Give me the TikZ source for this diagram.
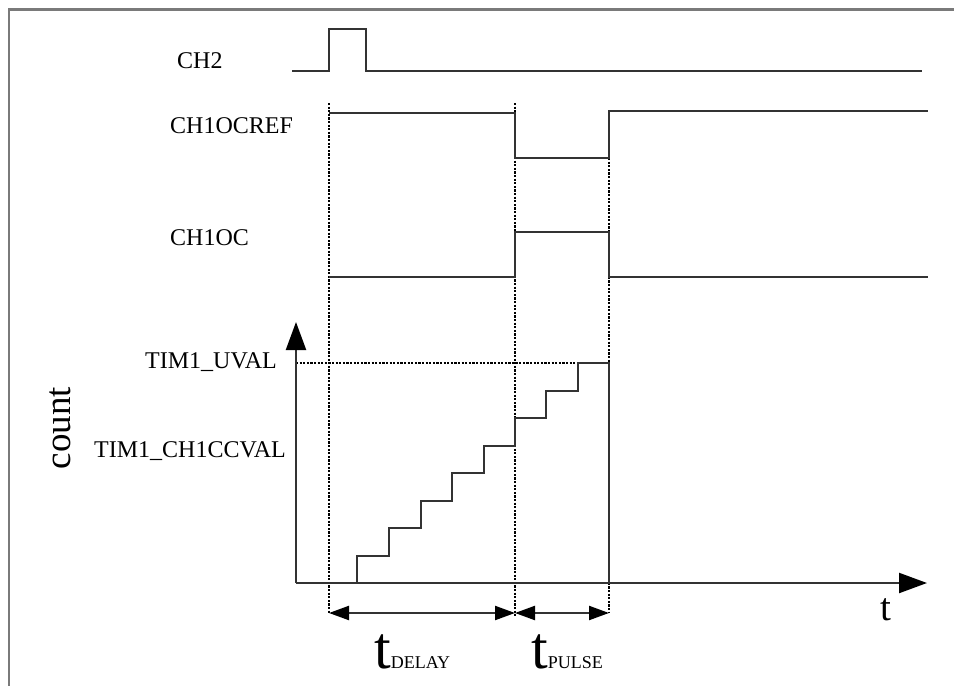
\documentclass[tikz,border=0pt]{standalone}
\usepackage{fontspec}
\setmainfont{Liberation Serif}
\usetikzlibrary{arrows.meta}
\definecolor{framegray}{HTML}{7A7A7A}
\definecolor{sig}{HTML}{333333}
\begin{document}
\begin{tikzpicture}[x=1pt,y=-1pt,
  signal/.style={draw=sig,line width=2.2pt,line join=miter},
  guide/.style={draw=black,line width=2.2pt,dash pattern=on 2.2pt off 1.4pt},
  axis/.style={draw=sig,line width=2.2pt,-{Triangle[length=28pt,width=20pt,color=black]}},
  dim/.style={draw=sig,line width=2.2pt,{Triangle[length=20pt,width=14pt,color=black]}-{Triangle[length=20pt,width=14pt,color=black]}},
  lbl/.style={inner sep=0pt,font=\fontsize{24}{27}\selectfont},
  big/.style={inner sep=0pt,font=\fontsize{37}{40}\selectfont}]
\useasboundingbox (0,0) rectangle (954,686);
% frame
\draw[framegray,line width=2.6pt] (9,686) -- (9,9.5) -- (954,9.5);
% labels
\node[lbl,anchor=base west] (lch2) at (177,68) {CH2};
\node[lbl,anchor=base west] (lref) at (170,133) {CH1OCREF};
\node[lbl,anchor=base west] (loc) at (170,245) {CH1OC};
\node[lbl,anchor=base east] (luval) at (277,368) {TIM1\_UVAL};
\node[lbl,anchor=base east] (lccval) at (286,457) {TIM1\_CH1CCVAL};
\node[big,anchor=base,rotate=90] (lcount) at (70,428) {count};
\node[inner sep=0pt,anchor=base,font=\fontsize{39}{40}\selectfont] (lt) at (886,620) {t};
\node[inner sep=0pt,anchor=base west] (ldelay) at (374,668) {{\fontsize{60}{62}\selectfont t}{\fontsize{18}{20}\selectfont DELAY}};
\node[inner sep=0pt,anchor=base west] (lpulse) at (531,668) {{\fontsize{60}{62}\selectfont t}{\fontsize{18}{20}\selectfont PULSE}};
% guide coordinates
\coordinate (g1t) at (329,103);
\coordinate (g1b) at (329,613);
\coordinate (g2t) at (515,103);
\coordinate (g2b) at (515,616);
\coordinate (g3t) at (609,158);
\coordinate (g3b) at (609,613);
\draw[guide] (g1t) -- (g1b);
\draw[guide] (g2t) -- (g2b);
\draw[guide] (g3t) -- (g3b);
% signals
\draw[signal] (292,71) -- (329,71) -- (329,29) -- (366,29) -- (366,71) -- (922,71);
\draw[signal] (329,113) -- (515,113) -- (515,158) -- (609,158) -- (609,111) -- (928,111);
\draw[signal] (329,277) -- (515,277) -- (515,232) -- (609,232) -- (609,277) -- (928,277);
% axes
\coordinate (o) at (296,583);
\coordinate (ytip) at (296,322);
\coordinate (xtip) at (927,583);
\coordinate (uv0) at (296,363);
\coordinate (uv1) at (578,363);
\draw[guide] (uv0) -- (uv1);
\draw[axis] (o) -- (ytip);
\draw[axis] (o) -- (xtip);
% staircase
\draw[signal] (357,583) -- (357,556) -- (389,556) -- (389,528) -- (421,528) -- (421,501)
  -- (452,501) -- (452,473) -- (484,473) -- (484,446) -- (515,446) -- (515,418)
  -- (546,418) -- (546,391) -- (578,391) -- (578,363) -- (609,363) -- (609,583);
% dimension arrows
\coordinate (d1) at (329,613);
\coordinate (d2) at (515,613);
\coordinate (d3) at (609,613);
\draw[dim] (d1) -- (d2);
\draw[dim] (d2) -- (d3);
\end{tikzpicture}
\end{document}
